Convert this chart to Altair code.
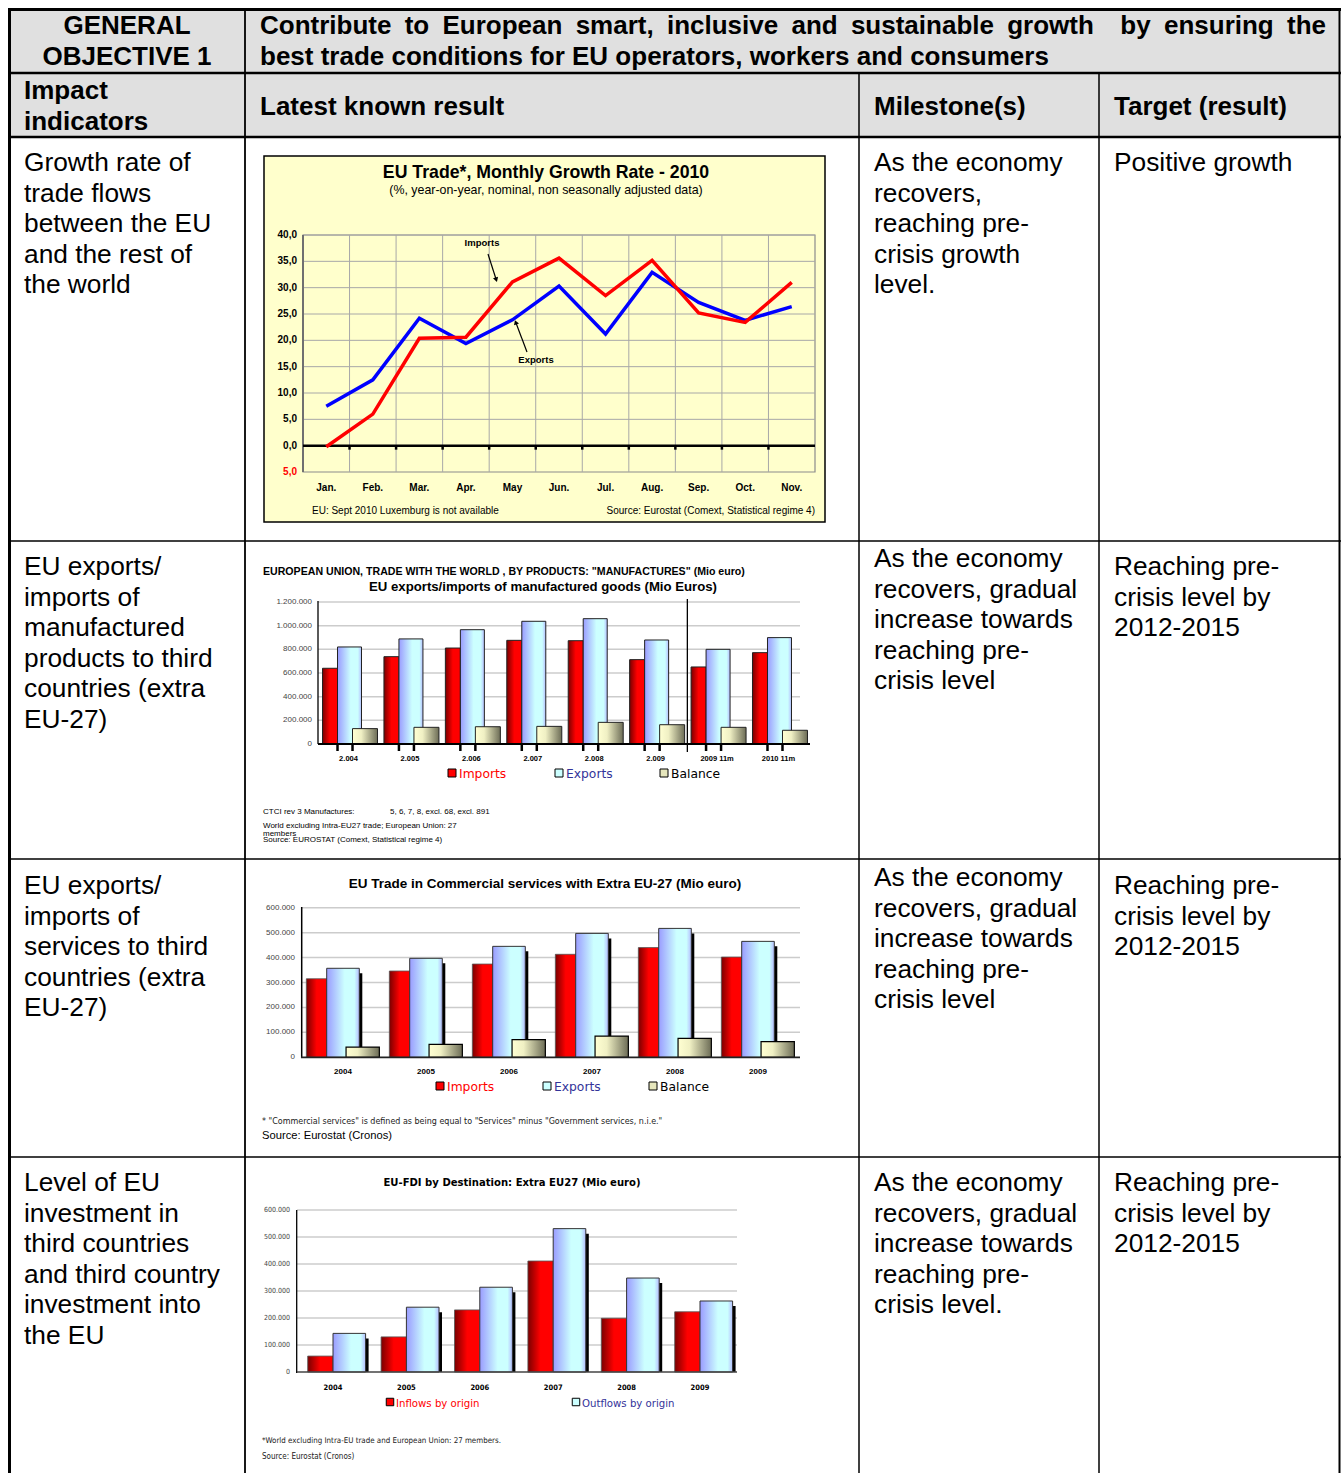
import altair as alt
import pandas as pd

W, H = 1341, 1473
SANS = "Liberation Sans, Arial, Helvetica, sans-serif"
NARROW = "Liberation Sans Narrow, Arial Narrow, DejaVu Sans Condensed, sans-serif"
VERD = "DejaVu Sans, Verdana, sans-serif"

# ---------------- data ----------------
months = ["Jan.", "Feb.", "Mar.", "Apr.", "May", "Jun.", "Jul.", "Aug.", "Sep.", "Oct.", "Nov."]
exports_growth = [7.5, 12.5, 24.2, 19.4, 23.9, 30.3, 21.2, 32.9, 27.2, 23.8, 26.4]
imports_growth = [-0.2, 6.0, 20.4, 20.6, 31.1, 35.6, 28.5, 35.2, 25.2, 23.4, 31.0]
growth_ticks = [-5, 0, 5, 10, 15, 20, 25, 30, 35, 40]

manuf_years = ["2.004", "2.005", "2.006", "2.007", "2.008", "2.009", "2009 11m", "2010 11m"]
manuf_imports = [640000, 738000, 811000, 876000, 873000, 713000, 651000, 772000]
manuf_exports = [820000, 888000, 966000, 1037000, 1059000, 879000, 800000, 899000]
manuf_balance = [130000, 141000, 146000, 149000, 183000, 163000, 141000, 116000]
manuf_ticks = [0, 200000, 400000, 600000, 800000, 1000000, 1200000]

serv_years = ["2004", "2005", "2006", "2007", "2008", "2009"]
serv_imports = [315000, 346000, 374000, 413000, 440000, 402000]
serv_exports = [357000, 397000, 445000, 497000, 517000, 465000]
serv_balance = [41000, 52000, 71000, 85000, 76000, 63000]
serv_ticks = [0, 100000, 200000, 300000, 400000, 500000, 600000]

fdi_years = ["2004", "2005", "2006", "2007", "2008", "2009"]
fdi_inflows = [59000, 130000, 230000, 411000, 199000, 223000]
fdi_outflows = [143000, 240000, 314000, 531000, 348000, 263000]
fdi_ticks = [0, 100000, 200000, 300000, 400000, 500000, 600000]

ONE = pd.DataFrame({"k": [0]})


def dotfmt(v):
    return f"{v:,}".replace(",", ".")


# ---------------- helpers ----------------
def text(s, x, y, size, color="black", bold=False, font=SANS, align="left",
         baseline="alphabetic", lh=None):
    kw = dict(text=s, fontSize=size, color=color, font=font, align=align,
              baseline=baseline, fontWeight="bold" if bold else "normal")
    if lh:
        kw["lineHeight"] = lh
    return alt.Chart(ONE).mark_text(**kw).encode(x=alt.value(x), y=alt.value(y))


def hrule(x1, x2, y, w=1.5, color="black"):
    return alt.Chart(ONE).mark_rule(color=color, strokeWidth=w).encode(
        x=alt.value(x1), x2=alt.value(x2), y=alt.value(y))


def vrule(x, y1, y2, w=1.5, color="black"):
    return alt.Chart(ONE).mark_rule(color=color, strokeWidth=w).encode(
        x=alt.value(x), y=alt.value(y1), y2=alt.value(y2))


def box(x1, x2, y1, y2, fill, stroke="black", sw=1.0, fo=1.0):
    return alt.Chart(ONE).mark_rect(fill=fill, fillOpacity=fo, stroke=stroke, strokeWidth=sw).encode(
        x=alt.value(x1), x2=alt.value(x2), y=alt.value(y1), y2=alt.value(y2))


def square(x, y, fill, size=64):
    return alt.Chart(ONE).mark_square(size=size, fill=fill, stroke="black", strokeWidth=1, opacity=1).encode(
        x=alt.value(x), y=alt.value(y))


def grad(stops):
    return {"gradient": "linear", "x1": 0, "y1": 0, "x2": 1, "y2": 0,
            "stops": [{"offset": o, "color": c} for o, c in stops]}


RED_G = grad([(0, "#7a0000"), (0.5, "#ff0000"), (1, "#ff0000")])
BLUE_G = grad([(0, "#9a9cff"), (0.55, "#ccffff"), (0.85, "#ccffff"), (1, "#b4bcff")])
BAL_G = grad([(0, "#ffffd2"), (0.35, "#f0f0c4"), (1, "#6c6c56")])


def bars(df, field, X, Y, width, xoff, fill, stroke="#222", sw=1.0):
    return alt.Chart(df).mark_bar(width=width, xOffset=xoff, fill=fill, stroke=stroke,
                                  strokeWidth=sw).encode(
        x=alt.X("cat:N", scale=X, axis=None),
        y=alt.Y(f"{field}:Q", scale=Y, axis=None, stack=None),
        y2=alt.Y2("z:Q"))


def shadow(df, field, X, Y, width, xoff, drop=5):
    return alt.Chart(df).mark_bar(width=width, xOffset=xoff, yOffset=drop, fill="black",
                                  strokeWidth=0).encode(
        x=alt.X("cat:N", scale=X, axis=None),
        y=alt.Y(f"{field}:Q", scale=Y, axis=None, stack=None),
        y2=alt.Y2("z:Q"))


layers = []

# ---------------- table frame ----------------
layers.append(box(9, 1340, 9, 137, "#e0e0e0", stroke="#e0e0e0", sw=0))
for y, w in [(9.5, 3), (73, 2.5), (137, 2.5), (541, 1.5), (859, 1.5), (1157, 1.5)]:
    layers.append(hrule(8, 1341, y, w))
layers.append(vrule(9.5, 8, H, 3))
layers.append(vrule(1339.5, 8, H, 2))
layers.append(vrule(245, 8, H, 1.8))
layers.append(vrule(859, 73, H, 1.5))
layers.append(vrule(1099, 73, H, 1.5))

# header texts
layers.append(text(["GENERAL", "OBJECTIVE 1"], 127, 34, 26, bold=True, align="center", lh=31))
AB = {" ": 278, ",": 278, "C": 722, "E": 667, "a": 556, "b": 611, "c": 556, "d": 611, "e": 556,
      "g": 611, "h": 611, "i": 278, "l": 278, "m": 889, "n": 611, "o": 611, "p": 611, "r": 389,
      "s": 556, "t": 333, "u": 611, "v": 556, "w": 778, "y": 556}
line1 = ["Contribute", "to", "European", "smart,", "inclusive", "and", "sustainable", "growth",
         "", "by", "ensuring", "the"]
ww = [sum(AB[c] for c in w) * 26 / 1000 for w in line1]
gap = (1066 - sum(ww)) / (len(line1) - 1)
xx = 260.0
for w, wd in zip(line1, ww):
    if w:
        layers.append(text(w, xx, 34, 26, bold=True))
    xx += wd + gap
layers.append(text("best trade conditions for EU operators, workers and consumers", 260, 65, 26, bold=True))
layers.append(text(["Impact", "indicators"], 24, 99, 26, bold=True, lh=31))
layers.append(text("Latest known result", 260, 115, 26, bold=True))
layers.append(text("Milestone(s)", 874, 115, 26, bold=True))
layers.append(text("Target (result)", 1114, 115, 26, bold=True))

LH = 30.6
body = [
    (24, 171, ["Growth rate of", "trade flows", "between the EU", "and the rest of", "the world"]),
    (874, 171, ["As the economy", "recovers,", "reaching pre-", "crisis growth", "level."]),
    (1114, 171, ["Positive growth"]),
    (24, 575, ["EU exports/", "imports of", "manufactured", "products to third", "countries (extra", "EU-27)"]),
    (874, 567, ["As the economy", "recovers, gradual", "increase towards", "reaching pre-", "crisis level"]),
    (1114, 575, ["Reaching pre-", "crisis level by", "2012-2015"]),
    (24, 894, ["EU exports/", "imports of", "services to third", "countries (extra", "EU-27)"]),
    (874, 886, ["As the economy", "recovers, gradual", "increase towards", "reaching pre-", "crisis level"]),
    (1114, 894, ["Reaching pre-", "crisis level by", "2012-2015"]),
    (24, 1191, ["Level of EU", "investment in", "third countries", "and third country", "investment into", "the EU"]),
    (874, 1191, ["As the economy", "recovers, gradual", "increase towards", "reaching pre-", "crisis level."]),
    (1114, 1191, ["Reaching pre-", "crisis level by", "2012-2015"]),
]
for x, y, lines in body:
    layers.append(text(lines, x, y, 26.3, lh=LH))

# ---------------- chart 1: monthly growth ----------------
X1 = alt.Scale(type="band", domain=months, range=[303, 815], paddingInner=0, paddingOuter=0)
Y1 = alt.Scale(domain=[-5, 40], range=[472, 235], nice=False, zero=False)
g_df = pd.DataFrame({"month": months, "exp": exports_growth, "imp": imports_growth,
                     "idx": list(range(len(months)))})
t1 = pd.DataFrame({"v": growth_ticks,
                   "lab": [f"{abs(v):.1f}".replace(".", ",") for v in growth_ticks]})
c1 = [
    box(264, 825, 156, 522, "#ffffcc", stroke="black", sw=1.5),
    box(303, 815, 235, 472, "#ffffcc", stroke="#8c8c8c", sw=1.2, fo=0),
    alt.Chart(t1[t1.v > 0]).mark_rule(color="#a8a8a8", strokeWidth=1).encode(
        y=alt.Y("v:Q", scale=Y1, axis=None), x=alt.value(303), x2=alt.value(815)),
    alt.Chart(pd.DataFrame({"month": months[1:]})).mark_rule(color="#a8a8a8", strokeWidth=1).encode(
        x=alt.X("month:N", scale=X1, axis=None, bandPosition=0), y=alt.value(235), y2=alt.value(472)),
    vrule(303, 235, 472, 2, "#707070"),
    alt.Chart(t1[t1.v == 0]).mark_rule(color="black", strokeWidth=2.5).encode(
        y=alt.Y("v:Q", scale=Y1, axis=None), x=alt.value(303), x2=alt.value(815)),
    alt.Chart(pd.DataFrame({"month": months[1:], "v": 0})).mark_rule(
        color="black", strokeWidth=2.5, y2Offset=4).encode(
        x=alt.X("month:N", scale=X1, axis=None, bandPosition=0),
        y=alt.Y("v:Q", scale=Y1, axis=None), y2="v:Q"),
    alt.Chart(g_df).mark_line(color="#0000ff", strokeWidth=3.5).encode(
        x=alt.X("month:N", scale=X1, axis=None), y=alt.Y("exp:Q", scale=Y1, axis=None),
        order="idx:Q"),
    alt.Chart(g_df).mark_line(color="#ff0000", strokeWidth=3.5).encode(
        x=alt.X("month:N", scale=X1, axis=None), y=alt.Y("imp:Q", scale=Y1, axis=None),
        order="idx:Q"),
    alt.Chart(t1).mark_text(fontSize=10, fontWeight="bold", font=SANS, align="right",
                            baseline="middle").encode(
        y=alt.Y("v:Q", scale=Y1, axis=None), x=alt.value(297), text="lab:N",
        color=alt.condition("datum.v < 0", alt.value("#ff0000"), alt.value("black"))),
    alt.Chart(pd.DataFrame({"month": months})).mark_text(fontSize=10, fontWeight="bold", font=SANS,
                                                         baseline="alphabetic").encode(
        x=alt.X("month:N", scale=X1, axis=None), y=alt.value(491), text="month:N"),
    # annotations
    text("Imports", 482, 246, 9.5, bold=True, align="center"),
    alt.Chart(ONE).mark_rule(color="black", strokeWidth=1.2).encode(
        x=alt.value(488), y=alt.value(254), x2=alt.value(496), y2=alt.value(279)),
    alt.Chart(ONE).mark_point(shape="triangle", angle=162, size=28, filled=True, color="black",
                              opacity=1).encode(x=alt.value(496), y=alt.value(279)),
    text("Exports", 536, 363, 9.5, bold=True, align="center"),
    alt.Chart(ONE).mark_rule(color="black", strokeWidth=1.2).encode(
        x=alt.value(527), y=alt.value(352), x2=alt.value(516), y2=alt.value(323)),
    alt.Chart(ONE).mark_point(shape="triangle", angle=340, size=28, filled=True, color="black",
                              opacity=1).encode(x=alt.value(516), y=alt.value(323)),
    text("EU Trade*, Monthly Growth Rate - 2010", 546, 178, 17.7, bold=True, align="center"),
    text("(%, year-on-year, nominal, non seasonally adjusted data)", 546, 194, 12.4, align="center"),
    text("EU: Sept 2010 Luxemburg is not available", 312, 514, 10),
    text("Source: Eurostat (Comext, Statistical regime 4)", 815, 514, 10, align="right"),
]
layers.append(alt.layer(*c1))

# ---------------- chart 2: manufactures ----------------
X2 = alt.Scale(type="band", domain=manuf_years, range=[318.8, 810.2], paddingInner=0, paddingOuter=0)
Y2 = alt.Scale(domain=[0, 1200000], range=[744, 602], nice=False)
m_df = pd.DataFrame({"cat": manuf_years, "imp": manuf_imports, "exp": manuf_exports,
                     "bal": manuf_balance, "z": 0})
t2 = pd.DataFrame({"v": manuf_ticks, "lab": [dotfmt(v) for v in manuf_ticks]})
c2 = [
    alt.Chart(t2[t2.v > 0]).mark_rule(color="#cccccc", strokeWidth=1.5).encode(
        y=alt.Y("v:Q", scale=Y2, axis=None), x=alt.value(318), x2=alt.value(800)),
    alt.Chart(t2).mark_text(fontSize=8, font=SANS, color="#444444", align="right",
                            baseline="middle").encode(
        y=alt.Y("v:Q", scale=Y2, axis=None), x=alt.value(312), text="lab:N"),
    bars(m_df, "imp", X2, Y2, 15, -19.5, RED_G),
    bars(m_df, "exp", X2, Y2, 24, 0, BLUE_G),
    bars(m_df, "bal", X2, Y2, 25, 15.5, BAL_G),
    vrule(318, 601, 744, 1.3),
    alt.Chart(t2[t2.v == 0]).mark_rule(color="black", strokeWidth=2).encode(
        y=alt.Y("v:Q", scale=Y2, axis=None), x=alt.value(318), x2=alt.value(810)),
    alt.Chart(m_df).mark_rule(color="black", strokeWidth=2.5, xOffset=-12, y2Offset=7).encode(
        x=alt.X("cat:N", scale=X2, axis=None, bandPosition=0.5),
        y=alt.Y("z:Q", scale=Y2, axis=None), y2="z:Q"),
    alt.Chart(m_df).mark_rule(color="black", strokeWidth=2.5, xOffset=3, y2Offset=7).encode(
        x=alt.X("cat:N", scale=X2, axis=None, bandPosition=0.5),
        y=alt.Y("z:Q", scale=Y2, axis=None), y2="z:Q"),
    alt.Chart(pd.DataFrame({"cat": ["2009 11m"]})).mark_rule(color="black", strokeWidth=1.3).encode(
        x=alt.X("cat:N", scale=X2, axis=None, bandPosition=0), y=alt.value(599), y2=alt.value(752)),
    alt.Chart(m_df).mark_text(fontSize=7.5, fontWeight="bold", font=SANS, xOffset=-1,
                              baseline="alphabetic").encode(
        x=alt.X("cat:N", scale=X2, axis=None), y=alt.value(761), text="cat:N"),
    text('EUROPEAN UNION, TRADE WITH THE WORLD , BY PRODUCTS: "MANUFACTURES" (Mio euro)',
         263, 574.5, 10.6, bold=True),
    text("EU exports/imports of manufactured goods (Mio Euros)", 543, 590.5, 13.2, bold=True,
         align="center"),
    square(452, 773, "#ff0000"),
    text("Imports", 459, 777.5, 12.3, color="#ff0000", font=VERD),
    square(559, 773, "#ccffff"),
    text("Exports", 566, 777.5, 12.3, color="#333399", font=VERD),
    square(664, 773, "#e6e6bc"),
    text("Balance", 671, 777.5, 12.3, font=VERD),
    text("CTCI rev 3 Manufactures:", 263, 814, 8),
    text("5, 6, 7, 8, excl. 68, excl. 891", 390, 814, 8),
    text("World excluding Intra-EU27 trade; European Union: 27", 263, 828, 8),
    text("members", 263, 836, 8),
    text("Source: EUROSTAT (Comext, Statistical regime 4)", 263, 842, 8),
]
layers.append(alt.layer(*c2))

# ---------------- chart 3: commercial services ----------------
X3 = alt.Scale(type="band", domain=serv_years, range=[301.5, 799.5], paddingInner=0, paddingOuter=0)
Y3 = alt.Scale(domain=[0, 600000], range=[1057.3, 907.7], nice=False)
s_df = pd.DataFrame({"cat": serv_years, "imp": serv_imports, "exp": serv_exports,
                     "bal": serv_balance, "z": 0})
t3 = pd.DataFrame({"v": serv_ticks, "lab": [dotfmt(v) for v in serv_ticks]})
c3 = [
    alt.Chart(t3[t3.v > 0]).mark_rule(color="#cccccc", strokeWidth=1.5).encode(
        y=alt.Y("v:Q", scale=Y3, axis=None), x=alt.value(301), x2=alt.value(800)),
    alt.Chart(t3).mark_text(fontSize=8, font=SANS, color="#444444", align="right",
                            baseline="middle").encode(
        y=alt.Y("v:Q", scale=Y3, axis=None), x=alt.value(295), text="lab:N"),
    shadow(s_df, "exp", X3, Y3, 32.6, 3),
    bars(s_df, "imp", X3, Y3, 20.7, -26.3, RED_G, stroke="#555", sw=0.8),
    bars(s_df, "exp", X3, Y3, 32.6, 0, BLUE_G, stroke="#333", sw=1),
    bars(s_df, "bal", X3, Y3, 33.3, 19.7, BAL_G, stroke="black", sw=1.2),
    vrule(301.7, 907, 1058, 1.5),
    alt.Chart(t3[t3.v == 0]).mark_rule(color="#222222", strokeWidth=1.8).encode(
        y=alt.Y("v:Q", scale=Y3, axis=None), x=alt.value(301), x2=alt.value(800)),
    alt.Chart(s_df).mark_text(fontSize=8, fontWeight="bold", font=SANS,
                              baseline="alphabetic").encode(
        x=alt.X("cat:N", scale=X3, axis=None), y=alt.value(1074), text="cat:N"),
    text("EU Trade in Commercial services with Extra EU-27 (Mio euro)", 545, 887.5, 13.5,
         bold=True, align="center"),
    square(440, 1086, "#ff0000"),
    text("Imports", 447, 1090.5, 12.3, color="#ff0000", font=VERD),
    square(547, 1086, "#ccffff"),
    text("Exports", 554, 1090.5, 12.3, color="#333399", font=VERD),
    square(653, 1086, "#e6e6bc"),
    text("Balance", 660, 1090.5, 12.3, font=VERD),
    text('* "Commercial services" is defined as being equal to "Services" minus '
         '"Government services, n.i.e."', 262, 1124, 8.9, font=NARROW, color="#222"),
    text("Source: Eurostat (Cronos)", 262, 1139, 11.2),
]
layers.append(alt.layer(*c3))

# ---------------- chart 4: FDI ----------------
X4 = alt.Scale(type="band", domain=fdi_years, range=[296.3, 736.7], paddingInner=0, paddingOuter=0)
Y4 = alt.Scale(domain=[0, 600000], range=[1372, 1210], nice=False)
f_df = pd.DataFrame({"cat": fdi_years, "inf": fdi_inflows, "out": fdi_outflows, "z": 0})
t4 = pd.DataFrame({"v": fdi_ticks, "lab": [dotfmt(v) for v in fdi_ticks]})
c4 = [
    alt.Chart(t4[t4.v > 0]).mark_rule(color="#cccccc", strokeWidth=1.5).encode(
        y=alt.Y("v:Q", scale=Y4, axis=None), x=alt.value(297), x2=alt.value(737)),
    alt.Chart(t4).mark_text(fontSize=7, font=NARROW, color="#444444", align="right",
                            baseline="middle").encode(
        y=alt.Y("v:Q", scale=Y4, axis=None), x=alt.value(290), text="lab:N"),
    shadow(f_df, "out", X4, Y4, 32.6, 19.3),
    bars(f_df, "inf", X4, Y4, 25.3, -12.65, RED_G, stroke="#555", sw=0.8),
    bars(f_df, "out", X4, Y4, 32.6, 16.3, BLUE_G, stroke="#333", sw=1),
    vrule(296.7, 1210, 1373, 1.3),
    alt.Chart(t4[t4.v == 0]).mark_rule(color="#444444", strokeWidth=1.5).encode(
        y=alt.Y("v:Q", scale=Y4, axis=None), x=alt.value(297), x2=alt.value(737)),
    alt.Chart(f_df).mark_text(fontSize=7.5, fontWeight="bold", font=NARROW,
                              baseline="alphabetic").encode(
        x=alt.X("cat:N", scale=X4, axis=None), y=alt.value(1390), text="cat:N"),
    text("EU-FDI by Destination: Extra EU27 (Mio euro)", 512, 1185.5, 11.2, bold=True,
         align="center", font=NARROW),
    square(390, 1402, "#ff0000", size=56),
    text("Inflows by origin", 396, 1406.5, 11.3, color="#ff0000", font=NARROW),
    square(576, 1402, "#ccffff", size=56),
    text("Outflows by origin", 582, 1406.5, 11.3, color="#333399", font=NARROW),
    text("*World excluding Intra-EU trade and European Union: 27 members.", 262, 1443, 7.9,
         font=NARROW, color="#222"),
    text("Source: Eurostat (Cronos)", 262, 1459, 8, font=NARROW, color="#222"),
]
layers.append(alt.layer(*c4))

chart = alt.layer(*layers).resolve_scale(
    x="independent", y="independent", color="independent"
).properties(
    width=W, height=H, background="white", padding=0,
    autosize=alt.AutoSizeParams(type="none"),
).configure_view(stroke=None)

chart.save("out.html", embed_options={"renderer": "svg", "actions": False})
